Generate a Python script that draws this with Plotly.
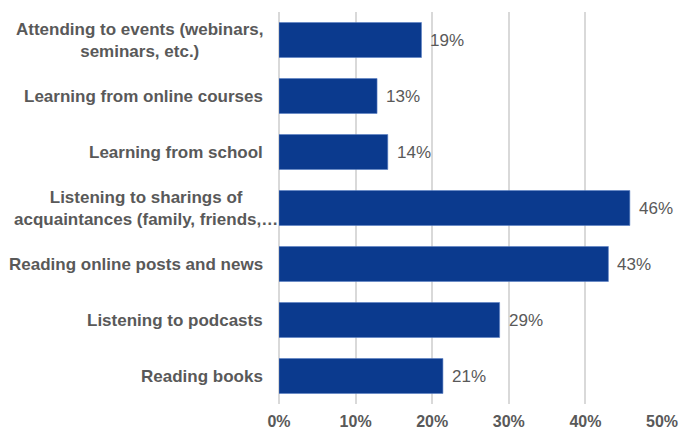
import plotly.graph_objects as go

# Survey: channels used to learn, share of respondents
categories = [
    "Attending to events (webinars,<br>seminars, etc.)",
    "Learning from online courses",
    "Learning from school",
    "Listening to sharings of<br>acquaintances (family, friends,…",
    "Reading online posts and news",
    "Listening to podcasts",
    "Reading books",
]
shares = [0.186, 0.128, 0.142, 0.458, 0.430, 0.288, 0.214]
tick_vals = [0, 0.1, 0.2, 0.3, 0.4, 0.5]
tick_text = ["0%", "10%", "20%", "30%", "40%", "50%"]

BAR = "#0B3A8E"
TEXT = "#595959"
GRID = "#D9D9D9"
FONT = "Liberation Sans, Arial, sans-serif"

ids = list(range(len(categories)))

fig = go.Figure(
    go.Bar(
        x=shares,
        y=ids,
        orientation="h",
        marker=dict(color=BAR, line=dict(color="#5B7FC4", width=0.6)),
        hoverinfo="skip",
    )
)

# value labels to the right of each bar
for i, v in zip(ids, shares):
    fig.add_annotation(
        x=v, y=i, xref="x", yref="y",
        text=f"{v:.0%}", showarrow=False,
        xanchor="left", xshift=7,
        font=dict(family=FONT, size=17, color=TEXT),
    )

# category labels, lines centred within each label block;
# the truncated label runs slightly past the others
for i, c in zip(ids, categories):
    fig.add_annotation(
        x=0, y=i, xref="paper", yref="y",
        text=f"<b>{c}</b>", showarrow=False,
        xanchor="right", xshift=(1 if c.endswith("…") else -14),
        align="center",
        font=dict(family=FONT, size=17, color=TEXT),
    )

fig.update_layout(
    width=679, height=432,
    margin=dict(l=279, r=17, t=12, b=28, autoexpand=False),
    paper_bgcolor="white", plot_bgcolor="white",
    bargap=0.375,
    showlegend=False,
    xaxis=dict(
        range=[0, 0.5],
        tickvals=tick_vals, ticktext=tick_text,
        showgrid=True, gridcolor=GRID, gridwidth=1.5,
        zeroline=True, zerolinecolor=GRID, zerolinewidth=2,
        showline=False, ticks="", automargin=False,
        ticklabelstandoff=6,
        tickfont=dict(family=FONT, size=16, color=TEXT, weight="bold"),
        fixedrange=True,
    ),
    yaxis=dict(
        range=[len(categories) - 0.5, -0.5],
        showticklabels=False, showgrid=False, zeroline=False,
        ticks="", fixedrange=True, automargin=False,
    ),
)

fig.write_html("out.html")
